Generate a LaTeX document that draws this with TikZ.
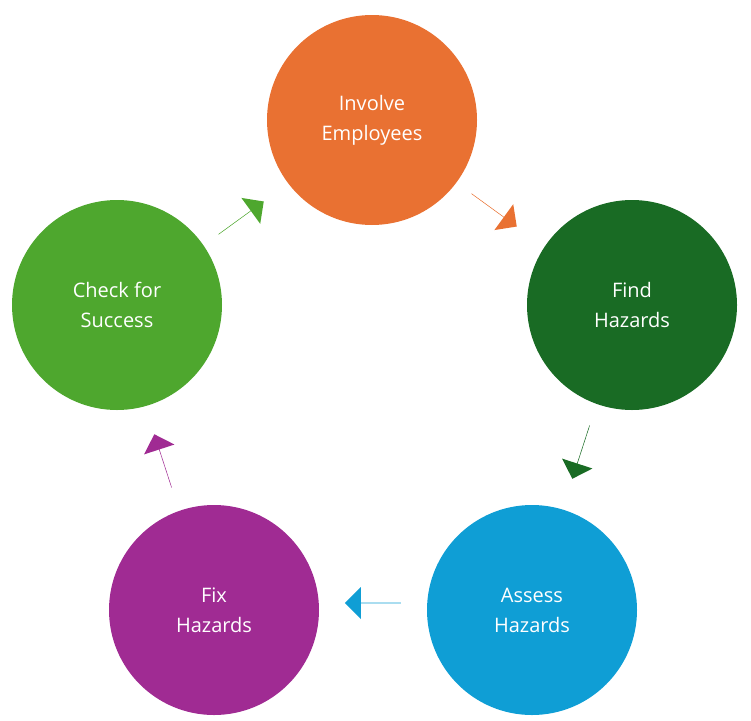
\documentclass[tikz,border=0pt]{standalone}
\usepackage{fontspec}
\setmainfont{Open Sans}
\usetikzlibrary{shapes.arrows}
\definecolor{cor}{HTML}{E97132}
\definecolor{cdg}{HTML}{196B24}
\definecolor{cbl}{HTML}{0F9ED5}
\definecolor{cpu}{HTML}{A02B93}
\definecolor{cgr}{HTML}{4EA72E}
\tikzset{
  stage/.style={circle,fill=#1,minimum size=210pt,inner sep=0,text=white,align=center,font=\fontsize{20}{30}\selectfont},
  blk/.style={single arrow,fill=#1,minimum height=56pt,minimum width=32pt,single arrow head extend=12pt,inner sep=0,single arrow head indent=0pt}
}
\begin{document}
\begin{tikzpicture}[x=1pt,y=-1pt]
\useasboundingbox (0,0) rectangle (751,720);
\node[stage=cor] (a) at (372,120) {Involve\\Employees};
\node[stage=cdg] (b) at (632,305) {Find\\Hazards};
\node[stage=cbl] (c) at (532,610) {Assess\\Hazards};
\node[stage=cpu] (d) at (214,610) {Fix\\Hazards};
\node[stage=cgr] (e) at (117,305) {Check for\\Success};
\node[blk=cor,rotate=-36] (ab) at (494,210) {};
\node[blk=cdg,rotate=-108] (bc) at (581,452) {};
\node[blk=cbl,rotate=180] (cd) at (373,603) {};
\node[blk=cpu,rotate=108] (de) at (163,461) {};
\node[blk=cgr,rotate=36] (ea) at (241,218) {};
\end{tikzpicture}
\end{document}
